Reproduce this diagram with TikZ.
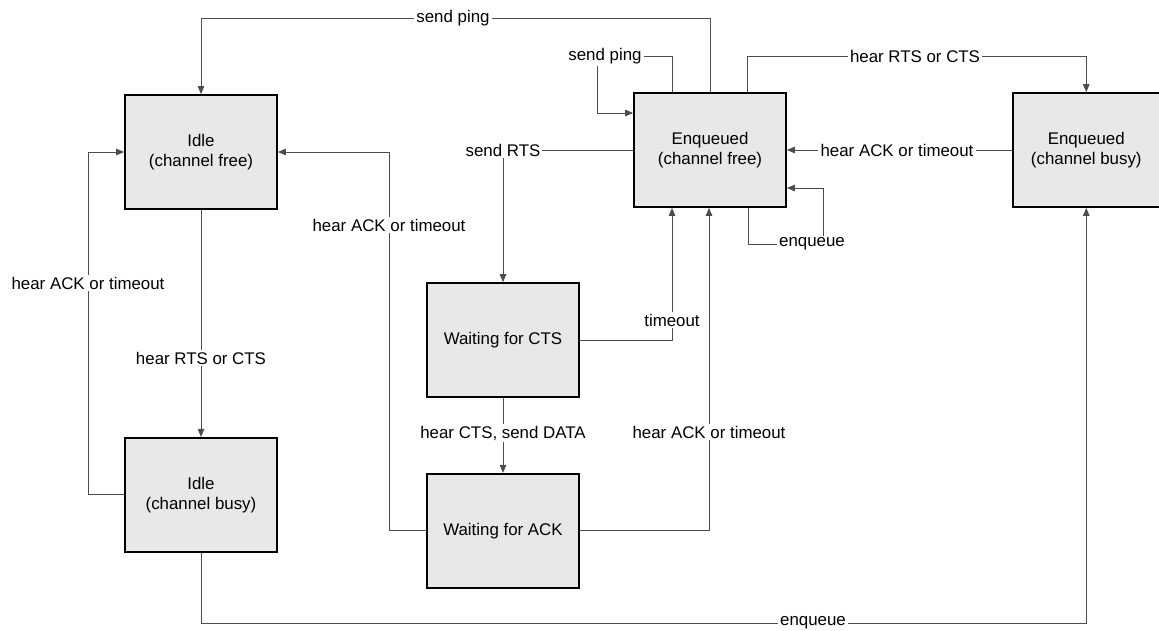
\documentclass[tikz,border=0pt]{standalone}
\usepackage{fontspec}
\setmainfont{Liberation Sans}
\usetikzlibrary{arrows.meta,positioning,calc}
\tikzset{
    >={Triangle[length=1.6mm,width=1.3mm]},
    link/.style={->, draw=black!70, line width=0.5pt},
    plain/.style={draw=black!70, line width=0.5pt},
    lbl/.style={inner sep=1pt}
}

\begin{document}
\begin{tikzpicture}[x=0.2mm, y=-0.2mm, every node/.style={font=\fontsize{9.6}{11.5}\selectfont}]

  \tikzstyle{state}=[rectangle, draw=black, line width=1pt, fill=black!9, minimum width=30.4mm, minimum height=22.8mm, align=center]

  \useasboundingbox (0,0) rectangle (1159,630);

  \node[state] at (201,152)              (idleF) {Idle\\(channel free)};
  \node[state, below=45.4mm of idleF]    (idleB) {Idle\\(channel busy)};
  \node[state] at (503,340)              (wcts)  {Waiting for CTS};
  \node[state, below=15mm of wcts]       (wack)  {Waiting for ACK};
  \node[state] at (710,150)              (enqF)  {Enqueued\\(channel free)};
  \node[state, right=45mm of enqF, minimum width=29.4mm] (enqB) {Enqueued\\(channel busy)};

  % transition labels
  \node[lbl] at (453,18)  (pingTop)  {send ping};
  \node[lbl] at (605,56)  (pingSelf) {send ping};
  \node[lbl] at (915,56)  (rtsTop)   {hear RTS or CTS};
  \node[lbl] at (897,150) (ackBusy)  {hear ACK or timeout};
  \node[lbl] at (812,244) (enqSelf)  {enqueue};
  \node[lbl] at (503,150) (sendRts)  {send RTS};
  \node[lbl] at (672,320) (tmo)      {timeout};
  \node[lbl] at (709,432) (ackFree)  {hear ACK or timeout};
  \node[lbl] at (503,433) (ctsData)  {hear CTS, send DATA};
  \node[lbl] at (389,225) (ackIdle)  {hear ACK or timeout};
  \node[lbl] at (201,358) (rtsIdle)  {hear RTS or CTS};
  \node[lbl] at (88,283)  (ackLeft)  {hear ACK or timeout};
  \node[lbl] at (813,623) (enqBot)   {enqueue};

  \draw[plain] (enqF.north) |- (pingTop.east);
  \draw[link] (pingTop.west) -| (idleF.north);

  \draw[plain] ([xshift=-7.6mm]enqF.north) |- (pingSelf.east);
  \draw[link] ([xshift=-1.6mm]pingSelf.south) |- ([yshift=7.4mm]enqF.west);

  \draw[plain] ([xshift=7.4mm]enqF.north) |- (rtsTop.west);
  \draw[link] (rtsTop.east) -| (enqB.north);

  \draw[plain] (enqB.west) -- (ackBusy.east);
  \draw[link] (ackBusy.west) -- (enqF.east);

  \draw[plain] ([xshift=7.6mm]enqF.south) |- (enqSelf.west);
  \draw[link] ([xshift=2.2mm]enqSelf.north) |- ([yshift=-7.6mm]enqF.east);

  \draw[plain] (enqF.west) -- (sendRts.east);
  \draw[link] (sendRts.south) -- (wcts.north);

  \draw[plain] (wcts.east) -| (tmo.south);
  \draw[link] (tmo.north) -- (tmo.north |- enqF.south);

  \draw[plain] (wack.east) -| (ackFree.south);
  \draw[link] (ackFree.north) -- (ackFree.north |- enqF.south);

  \draw[plain] (wcts.south) -- (ctsData.north);
  \draw[link] (ctsData.south) -- (wack.north);

  \draw[plain] (wack.west) -| (ackIdle.south);
  \draw[link] (ackIdle.north) |- (idleF.east);

  \draw[plain] (idleF.south) -- (rtsIdle.north);
  \draw[link] (rtsIdle.south) -- (idleB.north);

  \draw[plain] (idleB.west) -| (ackLeft.south);
  \draw[link] (ackLeft.north) |- (idleF.west);

  \draw[plain] (idleB.south) |- (enqBot.west);
  \draw[link] (enqBot.east) -| (enqB.south);
\end{tikzpicture}
\end{document}
